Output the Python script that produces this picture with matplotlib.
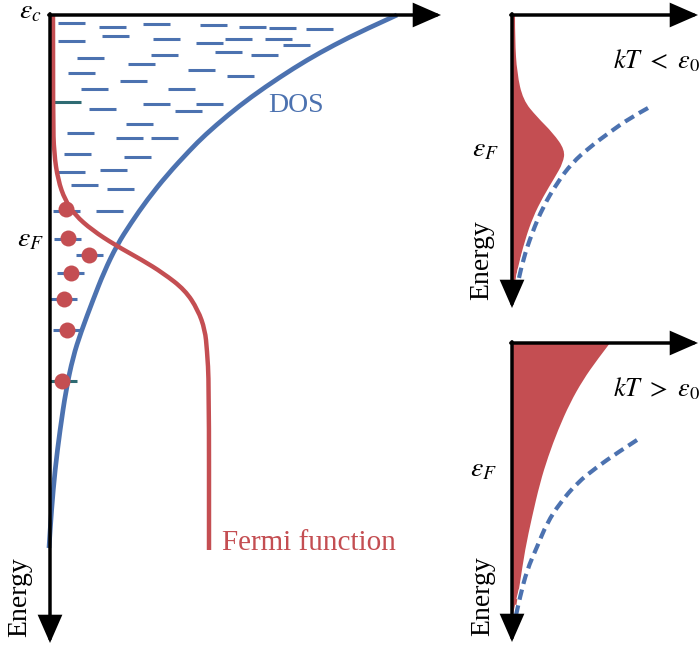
import matplotlib
matplotlib.use('Agg')
import matplotlib.pyplot as plt
import matplotlib.patheffects as pe
from matplotlib.path import Path
from matplotlib.patches import PathPatch

# main panel: distance below the band edge (depth) vs. value
dos_depth = [0, 15, 30, 45, 62, 82, 100, 120, 135, 160, 185, 208, 230, 257, 285, 317, 342, 375, 415, 455, 495, 533]
dos_value = [347, 314, 284, 257, 230, 201, 178, 155, 140, 117, 97, 81, 67, 54, 43, 31, 23, 16, 10, 5, 1.5, -1]

fermi_depth = [0, 105, 138, 165, 185, 200, 215, 230, 245, 258, 275, 295, 315, 335, 368, 535]
fermi_value = [3, 3, 4, 8, 15, 25, 42, 65, 92, 113, 135, 148, 155, 157, 159, 159]

# trap levels (left end of each level, depth)
level_left = [8, 49, 93, 150, 189, 219, 256, 8, 52, 103, 146, 175, 215, 233,
              101, 165, 201, 27, 78, 138, 18, 177, 70, 31, 118, 93, 146,
              39, 125, 76, 17, 66, 101, 14, 74, 8, 50, 21, 57, 3, 46,
              4, 26, 7, 0, 3]
level_depth = [8, 12, 9, 10, 12, 13, 14, 26, 21, 24, 28, 24, 24, 30,
               40, 37, 40, 43, 49, 55, 58, 61, 66, 74, 74, 89, 89,
               94, 96, 109, 118, 123, 123, 139, 142, 157, 155, 170, 174, 196, 196,
               224, 240, 258, 284, 315]
odd_level_left = [4, 0]
odd_level_depth = [87, 366]

elec_value = [16, 18, 39, 21, 14, 17, 12]
elec_depth = [194, 223, 240, 258, 284, 315, 366]

# kT < eps0
low_fill_depth = [0, 25, 58, 85, 102, 118, 135, 148, 162, 182, 202, 225, 252, 272, 285]
low_fill_value = [3, 3, 5, 11, 25, 41, 53, 51, 43, 31, 21, 13, 6, 2, 1]
low_dos_depth = [93, 103, 117, 132, 148, 168, 192, 218, 245, 272]
low_dos_value = [136, 118, 98, 78, 60, 45, 31, 20, 11, 5]

# kT > eps0
high_fill_depth = [0, 17, 37, 60, 87, 114, 140, 174, 207, 240, 270, 290]
high_fill_value = [98, 85, 71, 58, 46, 36, 28, 20, 13, 8, 3, 1]
high_dos_depth = [97, 110, 124, 140, 160, 180, 204, 227, 254, 277]
high_dos_value = [125, 105, 85, 65, 48, 35, 25, 15, 8, 3]

RED = '#C44E52'
BLUE = '#4C72B0'
TEAL = '#2E6B73'
LEVEL_LEN = 27

plt.rcParams['font.family'] = ['Liberation Serif', 'DejaVu Serif']
plt.rcParams['mathtext.fontset'] = 'stix'


def smooth_path(xs, ys, close_to_axis=False):
    # quadratic bezier through the midpoints, control points on the data
    pts = list(zip(xs, ys))
    verts = [pts[0]]
    codes = [Path.MOVETO]
    for i in range(1, len(pts) - 1):
        mid = ((pts[i][0] + pts[i + 1][0]) / 2, (pts[i][1] + pts[i + 1][1]) / 2)
        verts += [pts[i], mid]
        codes += [Path.CURVE3, Path.CURVE3]
    verts.append(pts[-1])
    codes.append(Path.LINETO)
    if close_to_axis:
        verts += [(0, pts[-1][1]), (0, pts[0][1]), pts[0]]
        codes += [Path.LINETO, Path.LINETO, Path.CLOSEPOLY]
    return Path(verts, codes)


def curve(ax, xs, ys, **kw):
    ax.add_patch(PathPatch(smooth_path(xs, ys), fill=False, capstyle='butt', **kw))


def arrow(ax, start, tip):
    ax.annotate('', xy=tip, xytext=start, zorder=6,
                arrowprops=dict(arrowstyle='-|>,head_length=0.8,head_width=0.35',
                                lw=2.5, color='k', shrinkA=0, shrinkB=0,
                                mutation_scale=20, joinstyle='miter'))


def axes_frame(ax, x_tip, y_tip):
    arrow(ax, (-1.2, 0), (x_tip, 0))
    arrow(ax, (0, -1.2), (0, y_tip))


fig = plt.figure(figsize=(7, 6.5), dpi=100)

# ---- main panel
ax = fig.add_axes([0, 0, 450 / 700, 1])
ax.set_xlim(-50, 400)
ax.set_ylim(635, -15)
ax.axis('off')

for x, d in zip(level_left, level_depth):
    ax.plot([x, x + LEVEL_LEN], [d, d], color=BLUE, lw=2.2, solid_capstyle='butt', zorder=1)
for x, d in zip(odd_level_left, odd_level_depth):
    ax.plot([x, x + LEVEL_LEN], [d, d], color=TEAL, lw=2.2, solid_capstyle='butt', zorder=1)

curve(ax, dos_value, dos_depth, ec=BLUE, lw=3.4, zorder=2)
curve(ax, fermi_value, fermi_depth, ec=RED, lw=3.2, zorder=3)
ax.plot(elec_value, elec_depth, 'o', color=RED, ms=11.5, mec='none', zorder=4)

axes_frame(ax, 391, 628)

ax.text(-20, -3, r'$\varepsilon_c$', fontsize=20, ha='center', va='center')
ax.text(-20, 225, r'$\varepsilon_F$', fontsize=20, ha='center', va='center')
ax.text(-30, 582, 'Energy', rotation=90, fontsize=20, ha='center', va='center')
ax.text(246, 91, 'DOS', color=BLUE, fontsize=20, ha='center', va='center')
ax.text(172, 535, 'Fermi function', color=RED, fontsize=21, ha='left', va='baseline')

# ---- small panels
dash_fx = [pe.Stroke(linewidth=4.6, foreground='white'), pe.Normal()]
panels = [
    ([460 / 700, 0.5, 240 / 700, 0.5], (310, -15), low_fill_depth, low_fill_value,
     low_dos_depth, low_dos_value, r'$kT\ <\ \varepsilon_0$', 293, (-27, 135), (-30, 245)),
    ([460 / 700, 0, 240 / 700, 0.5], (307, -18), high_fill_depth, high_fill_value,
     high_dos_depth, high_dos_value, r'$kT\ >\ \varepsilon_0$', 299, (-29, 127), (-29, 253)),
]
for rect, ylim, fd, fv, dd, dv, label, y_tip, ef_pos, en_pos in panels:
    a = fig.add_axes(rect)
    a.set_xlim(-52, 188)
    a.set_ylim(*ylim)
    a.axis('off')
    a.add_patch(PathPatch(smooth_path(fv, fd, close_to_axis=True), fc=RED, lw=0, zorder=1))
    curve(a, dv, dd, ec=BLUE, lw=3.0, ls=(0, (2.5, 1.4)), path_effects=dash_fx, zorder=2)
    axes_frame(a, 186, y_tip)
    a.text(101, 46, label, fontsize=19, ha='left', va='center')
    a.text(ef_pos[0], ef_pos[1], r'$\varepsilon_F$', fontsize=20, ha='center', va='center')
    a.text(en_pos[0], en_pos[1], 'Energy', rotation=90, fontsize=20, ha='center', va='center')

fig.savefig('out.png', dpi=100)
